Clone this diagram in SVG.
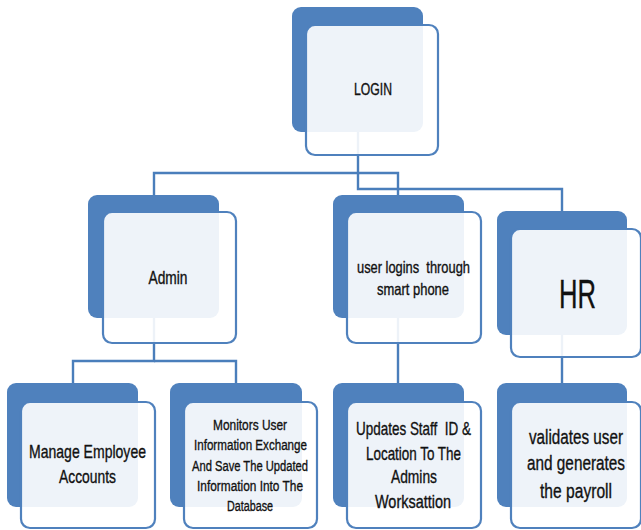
<svg xmlns="http://www.w3.org/2000/svg" width="641" height="530" viewBox="0 0 641 530">
<style>
.back{fill:#4F81BD;}
.front{fill:#FFFFFF;fill-opacity:0.9;stroke:#4F81BD;stroke-width:2.2;}
.conn{fill:none;stroke:#4A7EBB;stroke-width:2.4;}
text{font-family:"Liberation Sans",Arial,sans-serif;fill:#111111;stroke:#111111;stroke-width:0.35;text-anchor:middle;}
</style>
<rect width="641" height="530" fill="#FFFFFF"/>
<g id="connectors">
<polyline class="conn" points="358,120 358,173 154,173 154,200"/>
<polyline class="conn" points="358,173 398,173 398,200"/>
<polyline class="conn" points="358,173 358,189 562,189 562,215"/>
<polyline class="conn" points="154,300 154,361 73,361 73,390"/>
<polyline class="conn" points="154,361 236,361 236,390"/>
<polyline class="conn" points="398,300 398,390"/>
<polyline class="conn" points="562,320 562,390"/>
</g>
<g id="login">
<rect class="back" x="292" y="7" width="131" height="125" rx="9"/>
<rect class="front" x="306" y="25" width="132" height="130" rx="9"/>
<text x="373" y="95" font-size="16.5" textLength="38" lengthAdjust="spacingAndGlyphs">LOGIN</text>
</g>
<g id="admin">
<rect class="back" x="88" y="195" width="131" height="123" rx="9"/>
<rect class="front" x="103" y="212" width="133" height="131" rx="9"/>
<text x="168" y="284" font-size="17.5" textLength="39" lengthAdjust="spacingAndGlyphs">Admin</text>
</g>
<g id="user-logins">
<rect class="back" x="333" y="195" width="131" height="123" rx="9"/>
<rect class="front" x="347" y="212" width="134" height="131" rx="9"/>
<text x="413.5" y="273" font-size="16.5" textLength="113" lengthAdjust="spacingAndGlyphs" xml:space="preserve">user logins  through</text>
<text x="413" y="295" font-size="16.5" textLength="72" lengthAdjust="spacingAndGlyphs">smart phone</text>
</g>
<g id="hr">
<rect class="back" x="497" y="211" width="130" height="124" rx="9"/>
<rect class="front" x="511" y="229" width="130" height="128" rx="9"/>
<text x="577.5" y="308" font-size="40" textLength="37" lengthAdjust="spacingAndGlyphs" stroke-width="0.2">HR</text>
</g>
<g id="manage">
<rect class="back" x="7" y="383" width="131" height="124" rx="9"/>
<rect class="front" x="21" y="402" width="134" height="126" rx="9"/>
<text x="87.5" y="458" font-size="19" textLength="117" lengthAdjust="spacingAndGlyphs">Manage Employee</text>
<text x="87.5" y="483" font-size="19" textLength="57" lengthAdjust="spacingAndGlyphs">Accounts</text>
</g>
<g id="monitors">
<rect class="back" x="170" y="383" width="132" height="124" rx="9"/>
<rect class="front" x="184" y="402" width="133" height="126" rx="9"/>
<text x="250" y="430" font-size="15.5" textLength="74" lengthAdjust="spacingAndGlyphs">Monitors User</text>
<text x="250.5" y="450" font-size="15.5" textLength="113" lengthAdjust="spacingAndGlyphs">Information Exchange</text>
<text x="250" y="471" font-size="15.5" textLength="116" lengthAdjust="spacingAndGlyphs">And Save The Updated</text>
<text x="250" y="491" font-size="15.5" textLength="106" lengthAdjust="spacingAndGlyphs">Information Into The</text>
<text x="250" y="511" font-size="15.5" textLength="46" lengthAdjust="spacingAndGlyphs">Database</text>
</g>
<g id="updates">
<rect class="back" x="333" y="383" width="131" height="124" rx="9"/>
<rect class="front" x="347" y="402" width="134" height="126" rx="9"/>
<text x="413.5" y="435" font-size="18.5" textLength="115" lengthAdjust="spacingAndGlyphs" xml:space="preserve">Updates Staff  ID &amp;</text>
<text x="413.5" y="460" font-size="18.5" textLength="95" lengthAdjust="spacingAndGlyphs">Location To The</text>
<text x="414" y="483" font-size="18.5" textLength="46" lengthAdjust="spacingAndGlyphs">Admins</text>
<text x="413" y="508" font-size="18.5" textLength="76" lengthAdjust="spacingAndGlyphs">Worksattion</text>
</g>
<g id="validates">
<rect class="back" x="497" y="383" width="130" height="124" rx="9"/>
<rect class="front" x="511" y="402" width="130" height="126" rx="9"/>
<text x="576" y="444" font-size="20.5" textLength="94" lengthAdjust="spacingAndGlyphs">validates user</text>
<text x="576" y="470" font-size="20.5" textLength="98" lengthAdjust="spacingAndGlyphs">and generates</text>
<text x="576" y="498" font-size="20.5" textLength="72" lengthAdjust="spacingAndGlyphs">the payroll</text>
</g>
</svg>
